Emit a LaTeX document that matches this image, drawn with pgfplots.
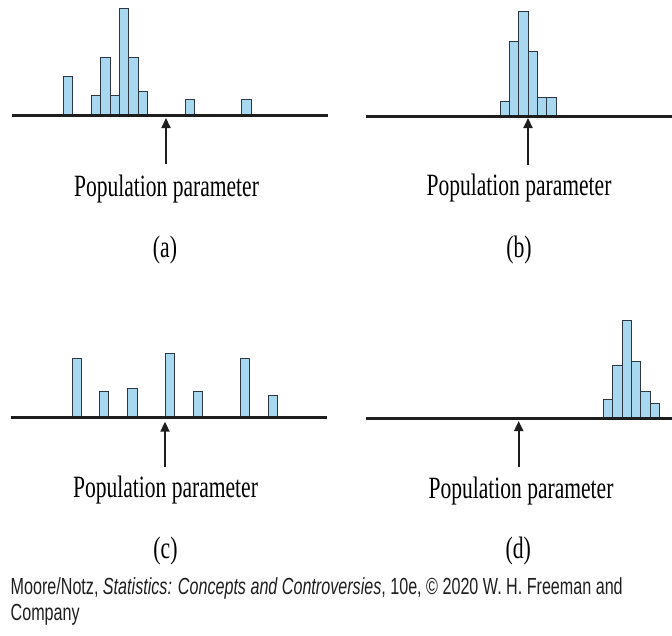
\documentclass[border=0pt]{standalone}
\usepackage{pgfplots}
\pgfplotsset{compat=1.18}
\usetikzlibrary{arrows.meta}
\usepackage{fontspec}
\setmainfont{Liberation Serif}
\newfontfamily\footfont{Liberation Sans}
\definecolor{barblue}{RGB}{168,216,240}
\definecolor{baredge}{RGB}{45,55,65}
\definecolor{ink}{RGB}{30,30,30}
\pgfplotsset{
  panel/.style={
    x=1pt, y=1pt, xmin=0, xmax=672, ymin=0, ymax=110,
    enlargelimits=false, hide axis, clip=false,
    anchor=south west, ybar, bar width=9.33pt,
  },
  bars/.style={fill=barblue, draw=baredge, line width=0.8pt, bar shift=0pt},
}
\tikzset{
  baseln/.style={draw=ink, line width=3pt},
  parr/.style={draw=ink, line width=2pt, -{Triangle[length=10pt,width=9pt]}},
}
\newcommand{\pp}{\scalebox{0.695}[1]{\fontsize{31}{36}\selectfont Population parameter}}
\newcommand{\lab}[1]{\scalebox{0.7}[1]{\fontsize{31}{36}\selectfont (#1)}}
\begin{document}
\begin{tikzpicture}
\useasboundingbox (0,0) rectangle (672pt,-635pt);
% (a)
\begin{axis}[panel, at={(0pt,-115pt)}]
\addplot[bars] coordinates {(68,38.3) (96,19.7) (105.33,57.3) (114.67,19.7) (124,106.3) (133.33,57.3) (142.67,24) (190,16) (246.3,16)};
\draw[baseln] (axis cs:12,0) -- (axis cs:328,0);
\draw[parr] (axis cs:166,-49) -- (axis cs:166,-3);
\end{axis}
% (b)
\begin{axis}[panel, at={(0pt,-116pt)}]
\addplot[bars] coordinates {(504.7,15) (514,75) (523.33,105) (532.67,64.3) (542,18.7) (551.33,18.7)};
\draw[baseln] (axis cs:366,0) -- (axis cs:672,0);
\draw[parr] (axis cs:528,-49) -- (axis cs:528,-2);
\end{axis}
% (c)
\begin{axis}[panel, at={(0pt,-417.7pt)}]
\addplot[bars] coordinates {(76.7,59.3) (104,26) (132.3,29.7) (169.7,64) (197.7,26) (244.7,59.3) (272.7,22)};
\draw[baseln] (axis cs:11,0) -- (axis cs:327,0);
\draw[parr] (axis cs:165,-49) -- (axis cs:165,-4);
\end{axis}
% (d)
\begin{axis}[panel, at={(0pt,-418.3pt)}]
\addplot[bars] coordinates {(608,19) (617.33,52.7) (626.67,97.7) (636,56.7) (645.33,26.7) (654.67,15)};
\draw[baseln] (axis cs:366,0) -- (axis cs:672,0);
\draw[parr] (axis cs:518.7,-48.4) -- (axis cs:518.7,-2.7);
\end{axis}
% texts
\node[anchor=base, inner sep=0] at (166.5pt,-196pt) {\pp};
\node[anchor=base, inner sep=0] at (519pt,-195.7pt) {\pp};
\node[anchor=base, inner sep=0] at (165.5pt,-497.3pt) {\pp};
\node[anchor=base, inner sep=0] at (521pt,-498.3pt) {\pp};
\node[anchor=base, inner sep=0] at (165pt,-257pt) {\lab{a}};
\node[anchor=base, inner sep=0] at (519pt,-257pt) {\lab{b}};
\node[anchor=base, inner sep=0] at (165.5pt,-558pt) {\lab{c}};
\node[anchor=base, inner sep=0] at (518.3pt,-558.3pt) {\lab{d}};
\node[anchor=base west, inner sep=0, text=ink] at (10.5pt,-594pt) {\scalebox{0.692}[1]{\footfont\fontsize{23.3}{27}\selectfont Moore/Notz, \textit{Statistics: Concepts and Controversies}, 10e, © 2020 W. H. Freeman and}};
\node[anchor=base west, inner sep=0, text=ink] at (10.5pt,-620pt) {\scalebox{0.692}[1]{\footfont\fontsize{23.3}{27}\selectfont Company}};
\end{tikzpicture}
\end{document}
